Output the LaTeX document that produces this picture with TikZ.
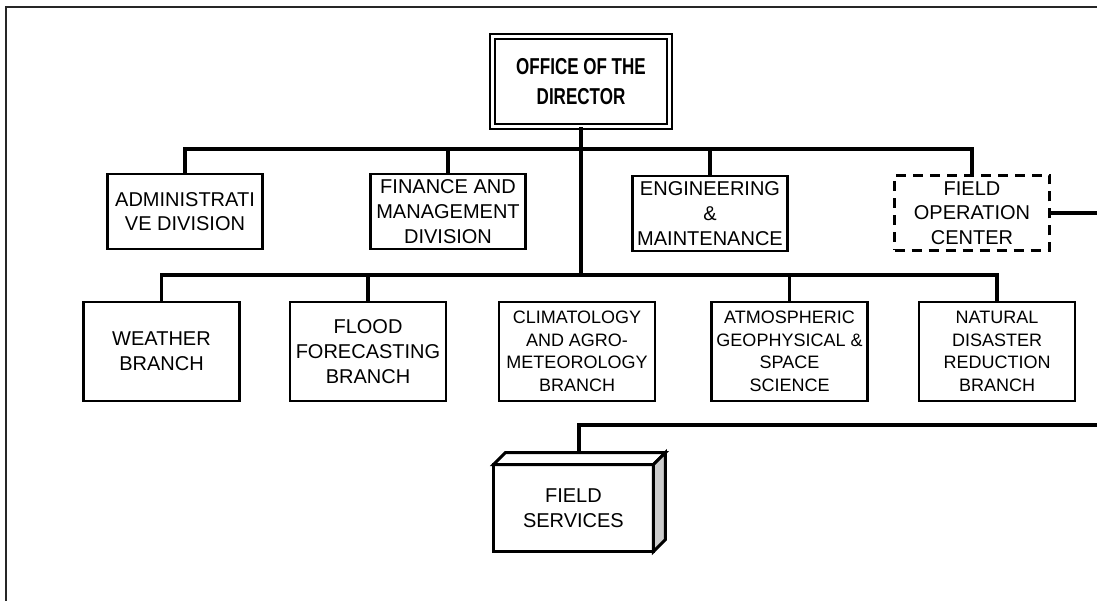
\documentclass[tikz,border=0pt]{standalone}
\usepackage{fontspec}
\setmainfont{Liberation Sans}
\newfontfamily\dirfont[FakeStretch=0.74]{Liberation Sans}
\usetikzlibrary{calc}

\begin{document}
\begin{tikzpicture}[x=1pt, y=-1pt,
  every node/.style={font=\fontsize{20}{24.7}\selectfont, text=black, align=center},
  unitbox/.style={draw=black, line width=2.2pt, fill=white, inner sep=2pt,
    minimum width=155pt, minimum height=75pt},
  branchbox/.style={unitbox, minimum width=156pt, minimum height=99pt},
  fourline/.style={font=\fontsize{18}{22.6}\selectfont},
  dashbox/.style={unitbox, line width=3pt, dash pattern=on 10pt off 7pt},
  director/.style={draw=black, double, double distance=3pt, line width=2pt,
    fill=white, minimum width=177pt, minimum height=90pt,
    font=\dirfont\bfseries\fontsize{23}{30.7}\selectfont},
  fsbox/.style={draw=black, line width=3pt, fill=white, outer sep=0pt,
    minimum width=160pt, minimum height=87pt},
  fsedge/.style={draw=black, line width=3pt},
  link/.style={line width=3.5pt, black},
  frameline/.style={line width=2.2pt, black!85}
]
\useasboundingbox (0,0) rectangle (1097,601);

% page frame (open to the right and bottom)
\draw[frameline] (1097,7) -- (6,7) -- (6,601);

% top office
\node[director] (director) at (581,81.5) {OFFICE OF THE\\DIRECTOR};

% divisions
\node[unitbox] (admin) at (185,211.5) {ADMINISTRATI\\VE DIVISION};
\node[unitbox] (finance) at (448,211.5) {FINANCE AND\\MANAGEMENT\\DIVISION};
\node[unitbox] (engineering) at (710,213.5) {ENGINEERING\\\&\\MAINTENANCE};
\node[dashbox] (fieldop) at (972,213) {FIELD\\OPERATION\\CENTER};

% branches
\node[branchbox] (weather) at (161.5,351.5) {WEATHER\\BRANCH};
\node[branchbox] (flood) at (368,351.5) {FLOOD\\FORECASTING\\BRANCH};
\node[branchbox, fourline] (climate) at (577,351.5)
  {CLIMATOLOGY\\AND AGRO-\\METEOROLOGY\\BRANCH};
\node[branchbox, fourline] (atmos) at (789.5,351.5)
  {ATMOSPHERIC\\GEOPHYSICAL \&\\SPACE\\SCIENCE};
\node[branchbox, fourline] (disaster) at (997,351.5)
  {NATURAL\\DISASTER\\REDUCTION\\BRANCH};

% field services (box with depth)
\node[fsbox] (fieldserv) at (573.4,508) {FIELD\\SERVICES};
\draw[fsedge, fill=white] (fieldserv.north west) -- ++(12,-12)
  -- ($(fieldserv.north east)+(12,-12)$) -- (fieldserv.north east) -- cycle;
\draw[fsedge, fill=black!20] (fieldserv.north east) -- ++(12,-12)
  -- ($(fieldserv.south east)+(12,-12)$) -- (fieldserv.south east) -- cycle;

% bus levels and page edge
\coordinate (upbar) at (0,149);
\coordinate (lowbar) at (0,275);
\coordinate (edge-fo) at (1097,213);
\coordinate (edge-fs) at (1097,425);
\coordinate (fs-top) at ($(fieldserv.north)+(5.6,-12)$);

% director stem
\draw[link] (director.south) -- (director.south |- lowbar);

% division bus
\draw[link] (admin.north) -- (admin.north |- upbar)
  -- (fieldop.north |- upbar) -- (fieldop.north);
\draw[link] (finance.north) -- (finance.north |- upbar);
\draw[link] (engineering.north) -- (engineering.north |- upbar);

% branch bus
\draw[link] (weather.north) -- (weather.north |- lowbar)
  -- (disaster.north |- lowbar) -- (disaster.north);
\draw[link] (flood.north) -- (flood.north |- lowbar);
\draw[link] (atmos.north) -- (atmos.north |- lowbar);

% lines running off the page
\draw[link] (fieldop.east) -- (edge-fo);
\draw[link] (fs-top) |- (edge-fs);

\end{tikzpicture}
\end{document}
